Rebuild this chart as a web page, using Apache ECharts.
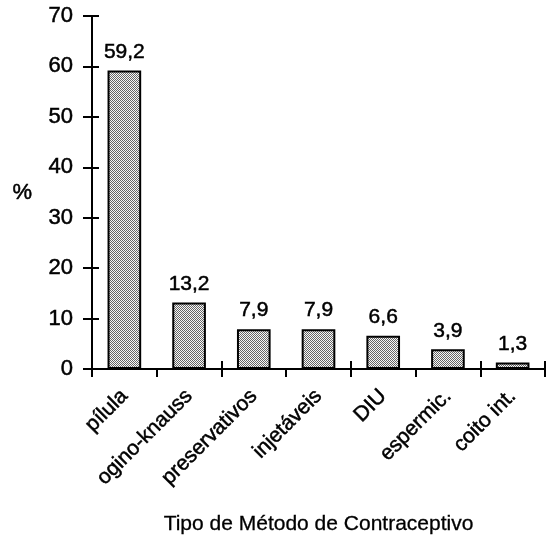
<!DOCTYPE html>
<html><head><meta charset="utf-8">
<script src="https://cdn.jsdelivr.net/npm/echarts@6/dist/echarts.min.js"></script>
<style>html,body{margin:0;padding:0;background:#fff}#c{width:553px;height:540px}</style>
</head><body><div id="c"></div>
<script>
const categories = ['pílula','ogino-knauss','preservativos','injetáveis','DIU','espermic.','coito int.'];
const values = [59.2, 13.2, 7.9, 7.9, 6.6, 3.9, 1.3];
const yTicks = [0,10,20,30,40,50,60,70];

const FONT = '"Liberation Sans", Arial, Helvetica, sans-serif';
const thick = {textBorderColor:'#000', textBorderWidth:0.5};
const pc = document.createElement('canvas');
pc.width = 4; pc.height = 4;
const px = pc.getContext('2d');
px.fillStyle = '#f8f8f8'; px.fillRect(0,0,4,4);
px.fillStyle = '#666';
[[0,0],[2,0],[1,1],[3,1],[0,2],[2,2],[1,3],[3,3]].forEach(([x,y])=>px.fillRect(x,y,1,1));

const chart = echarts.init(document.getElementById('c'));
const axisCommon = {
  axisLine:{show:true, lineStyle:{color:'#000', width:2}},
  splitLine:{show:false}
};
chart.setOption({
  animation:false,
  grid:{left:92,right:8,top:16,bottom:171, containLabel:false, outerBoundsMode:'none'},
  xAxis:[
    Object.assign({type:'category', data:categories, position:'bottom',
      axisTick:{show:true, length:8, lineStyle:{color:'#000', width:2}},
      axisLabel:Object.assign({rotate:45, fontSize:21, color:'#000', fontFamily:FONT, margin:24, interval:0}, thick),
      name:'Tipo de Método de Contraceptivo', nameLocation:'middle', nameGap:145,
      nameTextStyle:{fontSize:21, color:'#000', fontFamily:FONT, textBorderColor:'#000', textBorderWidth:0.3}
    }, axisCommon),
    Object.assign({type:'category', data:categories, position:'bottom',
      axisTick:{show:true, inside:true, length:8, lineStyle:{color:'#000', width:2}},
      axisLabel:{show:false}
    }, axisCommon)
  ],
  yAxis:[
    Object.assign({type:'value', min:0, max:70, interval:10,
      axisTick:{show:true, length:9, lineStyle:{color:'#000', width:2}},
      axisLabel:Object.assign({fontSize:22, color:'#000', fontFamily:FONT, margin:19,
        formatter:v=>yTicks.includes(v)?String(v):''}, thick),
      name:'%', nameLocation:'middle', nameRotate:0, nameGap:60,
      nameTextStyle:Object.assign({fontSize:22, color:'#000', fontFamily:FONT}, thick)
    }, axisCommon),
    Object.assign({type:'value', min:0, max:70, interval:10, position:'left',
      axisTick:{show:true, inside:true, length:7, lineStyle:{color:'#000', width:2}},
      axisLabel:{show:false}
    }, axisCommon)
  ],
  series:[{
    type:'bar', data:values, barWidth:'52%',
    itemStyle:{color:{image:pc, repeat:'repeat'}, borderColor:'#000', borderWidth:2},
    label:Object.assign({show:true, position:'top', distance:8, fontSize:21, color:'#000', fontFamily:FONT,
      formatter:p=>p.value.toFixed(1).replace('.',',')}, thick)
  }]
});
</script></body></html>
